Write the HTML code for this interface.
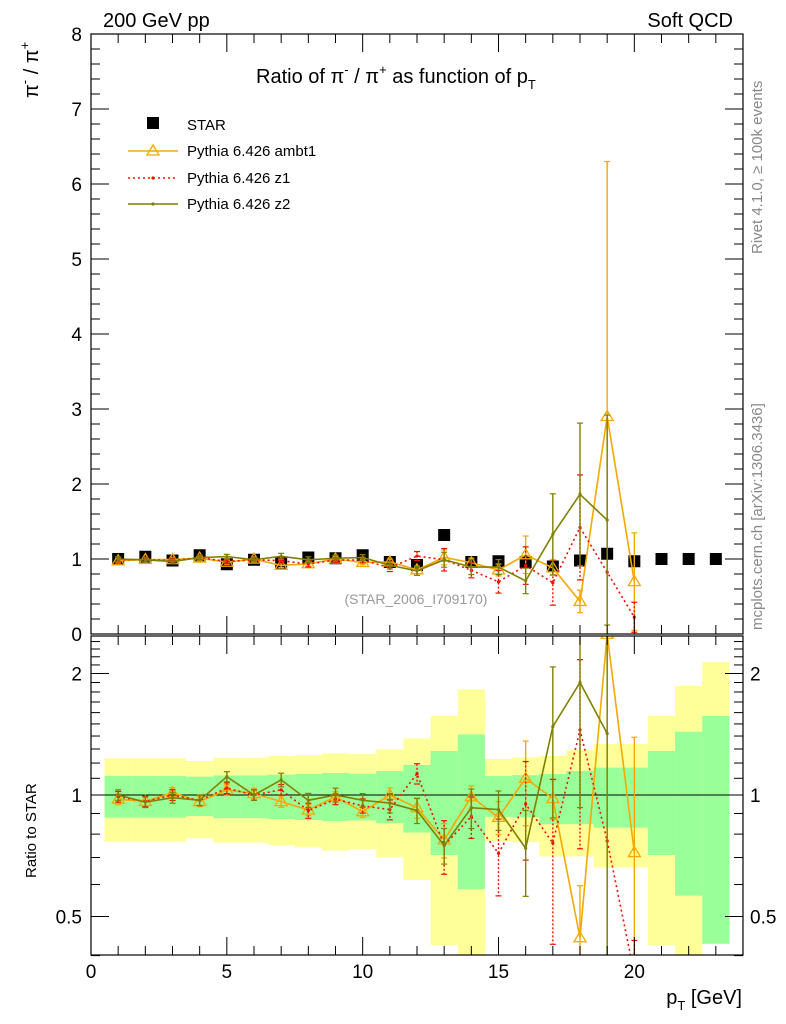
<!DOCTYPE html>
<html><head><meta charset="utf-8"><style>
html,body{margin:0;padding:0;background:#fff;width:786px;height:1024px;overflow:hidden;position:relative;}
svg{display:block;font-family:"Liberation Sans",sans-serif;}
</style></head><body>
<svg id="c" width="786" height="1024" style="position:absolute;left:0;top:0"></svg>
<script>
const xs=[1,2,3,4,5,6,7,8,9,10,11,12,13,14,15,16,17,18,19,20,21,22,23];
const star=[1.0,1.03,0.98,1.05,0.93,0.99,0.95,1.02,1.01,1.05,0.96,0.92,1.32,0.96,0.97,0.96,0.9,0.98,1.07,0.97,1.0,1.0,1.0];
const yelUp=[1.233,1.233,1.233,1.214,1.237,1.237,1.249,1.256,1.268,1.262,1.297,1.381,1.569,1.827,1.228,1.24,1.249,1.292,1.338,1.338,1.569,1.862,2.134];
const yelLo=[0.766,0.766,0.766,0.781,0.762,0.762,0.752,0.741,0.728,0.735,0.701,0.616,0.425,0.36,0.769,0.764,0.704,0.704,0.661,0.661,0.425,0.36,0.428];
const grnUp=[1.114,1.114,1.114,1.11,1.118,1.118,1.123,1.127,1.134,1.129,1.147,1.187,1.285,1.413,1.114,1.12,1.127,1.147,1.169,1.169,1.285,1.435,1.569];
const grnLo=[0.879,0.879,0.879,0.887,0.876,0.876,0.872,0.867,0.862,0.865,0.851,0.807,0.71,0.584,0.883,0.88,0.846,0.847,0.83,0.83,0.71,0.563,0.428];
const ambRatio=[0.976,0.964,1.013,0.964,1.029,1.008,0.963,0.918,0.99,0.909,1.0,0.93,0.774,0.99,0.88,1.1,0.98,0.443,2.71,0.72];
const ambErr=[0.03,0.03,0.03,0.03,0.03,0.03,0.03,0.03,0.03,0.03,0.04,0.05,0.1,0.06,0.08,0.25,0.1,0.15,3.4,0.65];
const z1Ratio=[0.99,0.964,1.0,0.97,1.04,1.0,1.03,0.915,0.976,0.94,0.92,1.13,0.75,0.885,0.717,0.95,0.76,1.45,0.77,0.23];
const z1Err=[0.03,0.03,0.03,0.03,0.03,0.03,0.03,0.04,0.03,0.04,0.05,0.06,0.15,0.1,0.15,0.25,0.3,0.7,0.0,0.2];
const z2Ratio=[1.0,0.96,0.985,0.97,1.11,1.0,1.09,0.97,1.0,0.97,0.955,0.915,0.75,0.93,0.92,0.738,1.477,1.9,1.42];
const z2Err=[0.03,0.03,0.03,0.03,0.03,0.03,0.04,0.04,0.04,0.04,0.05,0.06,0.1,0.1,0.1,0.17,0.54,0.95,1.4];
const xTicks=[0,5,10,15,20];
const yTicks=[0,1,2,3,4,5,6,7,8];
const rTicks=[0.5,1,2];

const NS="http://www.w3.org/2000/svg",svg=document.getElementById('c');
const L=91,R=743,T=34,B=634,RT=636,RB=955;
const X=v=>L+(v/24)*(R-L);
const Y=v=>B-(v/8)*(B-T);
const LOG2=Math.log(2);
const RMIN=0.36,RMAX=2.5;
const cr=v=>Math.min(RMAX,Math.max(RMIN,v));
const YR=v=>795-Math.log(cr(v))/LOG2*121.5;
function el(t,a,p){const e=document.createElementNS(NS,t);for(const k in a)e.setAttribute(k,a[k]);(p||svg).appendChild(e);return e;}
function txt(s,a,p){const e=el('text',a,p);e.textContent=s;return e;}
function clip(id,y1,y2){const d=el('defs',{});const c=el('clipPath',{id:id},d);el('rect',{x:L,y:y1,width:R-L,height:y2-y1},c);}
clip('cm',T,B);clip('cr',RT,RB);
const gm=el('g',{'clip-path':'url(#cm)'});

const gr=el('g',{'clip-path':'url(#cr)'});


xs.forEach((x,i)=>{
 const b=el('rect',{x:X(x-0.5),width:X(x+0.5)-X(x-0.5),y:YR(yelUp[i]),height:YR(yelLo[i])-YR(yelUp[i]),fill:'#ffff99'},gr);
 
});
xs.forEach((x,i)=>{
 const b=el('rect',{x:X(x-0.5),width:X(x+0.5)-X(x-0.5),y:YR(grnUp[i]),height:YR(grnLo[i])-YR(grnUp[i]),fill:'#99ff99'},gr);
 
});
el('line',{x1:L,x2:R,y1:YR(1),y2:YR(1),stroke:'#000','stroke-width':1},gr);

xs.forEach((x,i)=>{
 const m=el('rect',{x:X(x)-6,y:Y(star[i])-6,width:12,height:12,fill:'#000'},gm);
 
});

function series(name,ratio,err,color,dash,marker){
 const gmS=el('g',{},gm),grS=el('g',{},gr);
 
 
 const pm=[],pr=[];
 ratio.forEach((r,i)=>{const x=X(xs[i]);const v=r*star[i];pm.push(x+','+Y(v));pr.push(x+','+YR(r));});
 const sa={fill:'none',stroke:color,'stroke-width':1.6};if(dash)sa['stroke-dasharray']='2,3';
 el('polyline',Object.assign({points:pm.join(' ')},sa),gmS);
 el('polyline',Object.assign({points:pr.join(' ')},sa),grS);
 ratio.forEach((r,i)=>{
  const x=X(xs[i]),v=r*star[i],e=err[i];
  if(e>0){
   const ea={stroke:color,'stroke-width':1.4};if(dash)ea['stroke-dasharray']='2,2';
   const lo=Math.max(v-e,0);
   el('line',Object.assign({x1:x,x2:x,y1:Y(v+e),y2:Y(lo)},ea),gmS);
   el('line',{x1:x-3,x2:x+3,y1:Y(v+e),y2:Y(v+e),stroke:color,'stroke-width':1.2},gmS);
   el('line',{x1:x-3,x2:x+3,y1:Y(lo),y2:Y(lo),stroke:color,'stroke-width':1.2},gmS);
   const rh=(v+e)/star[i],rl=(v-e)/star[i];
   el('line',Object.assign({x1:x,x2:x,y1:YR(rh),y2:YR(rl)},ea),grS);
   el('line',{x1:x-3,x2:x+3,y1:YR(rh),y2:YR(rh),stroke:color,'stroke-width':1.2},grS);
   el('line',{x1:x-3,x2:x+3,y1:YR(rl),y2:YR(rl),stroke:color,'stroke-width':1.2},grS);
  }
  [[gmS,Y(v)],[grS,YR(r)]].forEach(([g,yy])=>{
   if(marker==='tri')el('polygon',{points:`${x},${yy-6} ${x-6},${yy+4} ${x+6},${yy+4}`,fill:'none',stroke:color,'stroke-width':1.3},g);
   else el('circle',{cx:x,cy:yy,r:1.6,fill:color},g);
  });
 });
}
series('pythia-ambt1',ambRatio,ambErr,'#f5a800',false,'tri');
series('pythia-z1',z1Ratio,z1Err,'#ee1100',true,'dot');
series('pythia-z2',z2Ratio,z2Err,'#808000',false,'dot');

el('rect',{x:L,y:T,width:R-L,height:B-T,fill:'none',stroke:'#000','stroke-width':1.2});
el('rect',{x:L,y:RT,width:R-L,height:RB-RT,fill:'none',stroke:'#000','stroke-width':1.2});
for(let v=0;v<=24;v++){
 const maj=v%5===0,x=X(v),len=maj?18:9;
 el('line',{x1:x,x2:x,y1:B,y2:B-len,stroke:'#000'});
 el('line',{x1:x,x2:x,y1:T,y2:T+len,stroke:'#000'});
 el('line',{x1:x,x2:x,y1:RB,y2:RB-len,stroke:'#000'});
 el('line',{x1:x,x2:x,y1:RT,y2:RT+len,stroke:'#000'});
}
xTicks.forEach(v=>{const t=txt(String(v),{x:X(v),y:978,'font-size':19,'text-anchor':'middle'});});
for(let k=0;k<=40;k++){const v=k/5,y=Y(v),len=k%5===0?18:9;
 el('line',{x1:L,x2:L+len,y1:y,y2:y,stroke:'#000'});el('line',{x1:R,x2:R-len,y1:y,y2:y,stroke:'#000'});}
yTicks.forEach(v=>{const t=txt(String(v),{x:82,y:Y(v)+7,'font-size':19,'text-anchor':'end'});});
const minors=[0.4,0.6,0.7,0.8,0.9,1.1,1.2,1.3,1.4,1.5,1.6,1.7,1.8,1.9,2.1,2.2,2.3,2.4];
minors.forEach(v=>{const y=YR(v);el('line',{x1:L,x2:L+9,y1:y,y2:y,stroke:'#000'});el('line',{x1:R,x2:R-9,y1:y,y2:y,stroke:'#000'});});
rTicks.forEach(v=>{const y=YR(v);el('line',{x1:L,x2:L+18,y1:y,y2:y,stroke:'#000'});el('line',{x1:R,x2:R-18,y1:y,y2:y,stroke:'#000'});
 const a=txt(String(v),{x:82,y:y+7,'font-size':19,'text-anchor':'end'});
 const b=txt(String(v),{x:750,y:y+7,'font-size':19});});
</script>
<svg width="786" height="1024" style="position:absolute;left:0;top:0" font-family="Liberation Sans, sans-serif">
<text x="103" y="27" font-size="20">200 GeV pp</text>
<text x="733" y="27" font-size="20" text-anchor="end">Soft QCD</text>
<text x="256" y="83" font-size="20">Ratio of π<tspan font-size="13" dy="-9">-</tspan><tspan dy="9"> / π</tspan><tspan font-size="13" dy="-9">+</tspan><tspan dy="9"> as function of p</tspan><tspan font-size="13" dy="6">T</tspan></text>
<text transform="translate(38,98) rotate(-90)" font-size="20">π<tspan font-size="13" dy="-9">-</tspan><tspan dy="9"> / π</tspan><tspan font-size="13" dy="-9">+</tspan></text>
<text transform="translate(36,878) rotate(-90)" font-size="15">Ratio to STAR</text>
<text x="742" y="1004" font-size="20" text-anchor="end">p<tspan font-size="13" dy="6">T</tspan><tspan dy="-6"> [GeV]</tspan></text>
<text x="416" y="604" font-size="14" fill="#999" text-anchor="middle">(STAR_2006_I709170)</text>
<text transform="translate(762,254) rotate(-90)" font-size="15" fill="#888">Rivet 4.1.0, ≥ 100k events</text>
<text transform="translate(762,630) rotate(-90)" font-size="15" fill="#888">mcplots.cern.ch [arXiv:1306.3436]</text>
<g>
<rect x="147" y="117" width="12" height="12" fill="#000"/>
<text x="187" y="130" font-size="15">STAR</text>
<line x1="128" x2="178" y1="151" y2="151" stroke="#f5a800" stroke-width="1.6"/>
<polygon points="153,145 147,155 159,155" fill="none" stroke="#f5a800" stroke-width="1.3"/>
<text x="187" y="156" font-size="15">Pythia 6.426 ambt1</text>
<line x1="128" x2="178" y1="178" y2="178" stroke="#ee1100" stroke-width="1.6" stroke-dasharray="2,3"/>
<circle cx="153" cy="178" r="1.6" fill="#ee1100"/>
<text x="187" y="183" font-size="15">Pythia 6.426 z1</text>
<line x1="128" x2="178" y1="204" y2="204" stroke="#808000" stroke-width="1.6"/>
<circle cx="153" cy="204" r="1.6" fill="#808000"/>
<text x="187" y="209" font-size="15">Pythia 6.426 z2</text>
</g>
</svg>
</body></html>
